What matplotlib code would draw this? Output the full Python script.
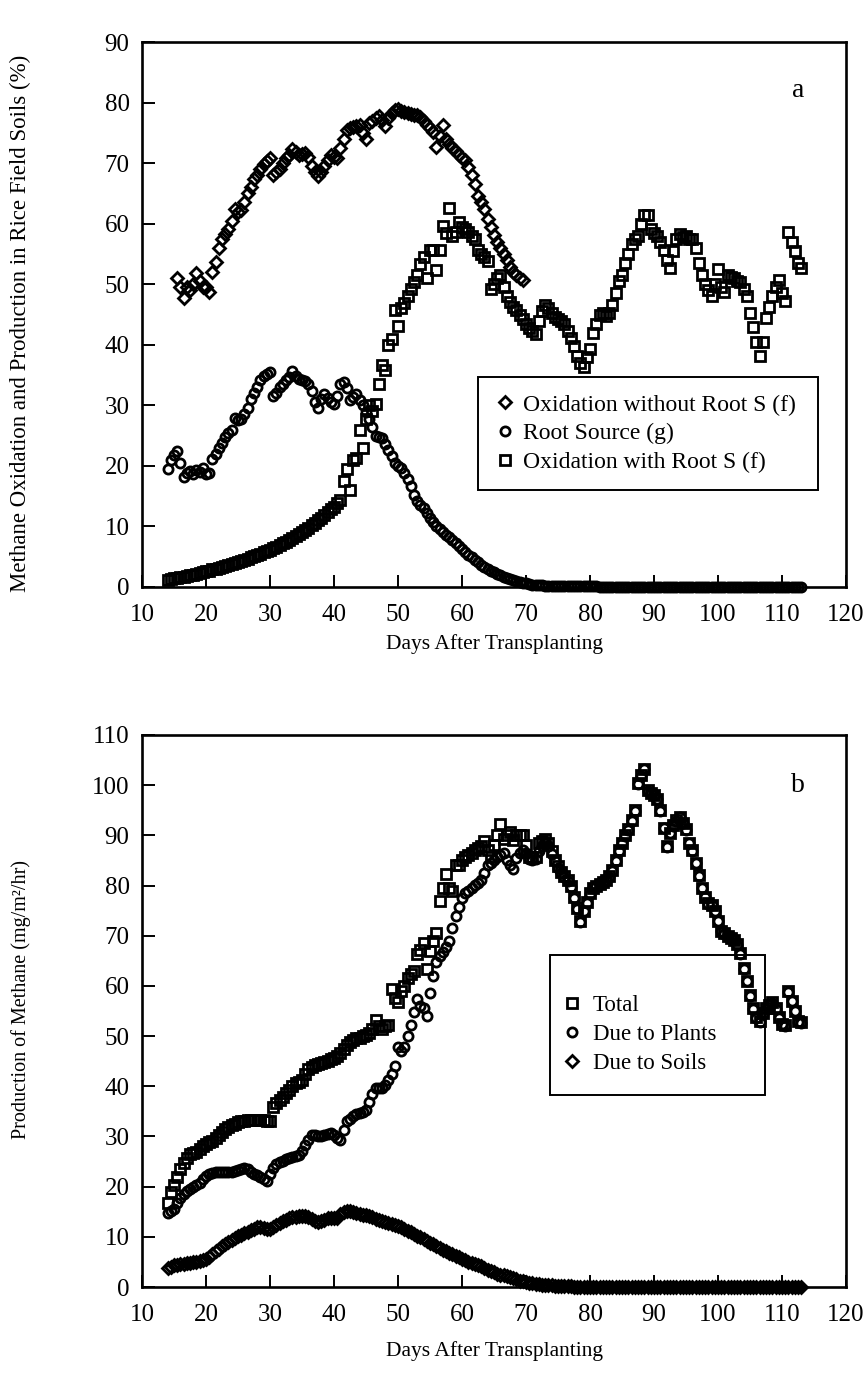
import numpy as np
import matplotlib
matplotlib.use("Agg")
import matplotlib.pyplot as plt
from matplotlib.patches import Rectangle

# ---- panel a: oxidation (%) ----
# sampled every 0.5 day
a_sq_start = 14.0
a_oxid_with_root = [
    1.2, 1.3, 1.4, 1.5, 1.6, 1.7, 1.8, 1.9, 2.0, 2.1,
    2.3, 2.4, 2.6, 2.7, 2.9, 3.0, 3.2, 3.3, 3.5, 3.7,
    3.8, 4.0, 4.1, 4.3, 4.5, 4.7, 4.9, 5.1, 5.3, 5.5,
    5.7, 5.9, 6.1, 6.4, 6.6, 6.9, 7.2, 7.5, 7.8, 8.1,
    8.4, 8.7, 9.0, 9.4, 9.8, 10.2, 10.6, 11.0, 11.4, 11.9,
    12.4, 12.8, 13.2, 13.8, 14.3, 17.5, 19.5, 16.0, 21.0, 21.3,
    25.9, 23.0, 27.7, 30.0, 29.0, 30.3, 33.5, 36.7, 35.8, 39.9,
    41.0, 45.7, 43.1, 46.0, 46.9, 48.0, 49.2, 50.4, 51.6, 53.3,
    54.5, 51.0, 55.7, 55.7, 52.4, 55.7, 59.7, 58.5, 62.6, 58.0,
    58.6, 60.3, 59.5, 59.1, 58.6, 58.0, 57.4, 55.7, 55.0, 54.5,
    53.9, 49.2, 50.0, 51.0, 51.6, 49.5, 48.0, 47.0, 46.2, 45.7,
    45.0, 44.2, 43.4, 42.8, 42.3, 41.7, 44.0, 45.5, 46.5, 46.0,
    45.2, 44.6, 44.3, 44.0, 43.5, 42.2, 41.1, 39.8, 38.2, 37.0,
    36.4, 38.0, 39.3, 42.0, 43.5, 45.0, 45.2, 44.8, 45.2, 46.5,
    48.5, 50.5, 51.6, 53.5, 55.0, 56.6, 57.5, 58.0, 60.0, 61.5,
    61.5, 59.1, 58.5, 58.0, 57.0, 55.7, 54.0, 52.7, 55.5, 57.5,
    58.3, 57.8, 58.0, 57.5, 57.4, 56.0, 53.5, 51.5, 50.0, 49.0,
    48.0, 50.0, 52.5, 49.5, 48.7, 51.6, 51.2, 51.0, 50.6, 50.4,
    49.2, 48.0, 45.2, 43.0, 40.5, 38.2, 40.5, 44.5, 46.3, 48.0,
    49.5, 50.7, 48.5, 47.2, 58.6, 57.0, 55.5, 53.5, 52.7,
]

a_ci_start = 14.0
a_root_source = [
    19.5, 21.0, 21.8, 22.4, 20.4, 18.2, 18.8, 19.2, 18.6, 19.4,
    19.0, 19.6, 18.6, 18.8, 21.2, 22.0, 23.0, 23.8, 24.8, 25.4,
    26.0, 27.9, 27.6, 27.8, 28.6, 29.5, 31.0, 32.0, 33.0, 34.2,
    34.8, 35.2, 35.5, 31.5, 32.0, 33.0, 33.6, 34.2, 34.6, 35.6,
    34.8, 34.4, 34.2, 34.0, 33.5, 32.3, 30.5, 29.6, 31.0, 31.8,
    31.2, 30.6, 30.2, 31.5, 33.6, 33.8, 32.9, 30.8, 31.4, 31.8,
    30.8, 30.0, 28.9, 27.8, 26.5, 25.0, 24.8, 24.6, 23.6, 22.6,
    21.6, 20.4, 20.0, 19.6, 18.8, 17.8, 16.6, 15.2, 14.2, 13.5,
    13.0, 12.2, 11.4, 10.8, 10.1, 9.6, 9.1, 8.6, 8.2, 7.7,
    7.2, 6.7, 6.2, 5.8, 5.3, 4.9, 4.5, 4.1, 3.7, 3.3,
    3.0, 2.7, 2.4, 2.1, 1.9, 1.7, 1.5, 1.3, 1.1, 0.95,
    0.8, 0.7, 0.6, 0.5, 0.4, 0.35, 0.3, 0.25, 0.2, 0.18,
    0.15, 0.12, 0.1, 0.1, 0.1, 0.1, 0.1, 0.1, 0.1, 0.1,
    0.1, 0.1, 0.1, 0.1, 0.1, 0.05, 0.05, 0.05, 0.05, 0.05,
    0.05, 0.05, 0.05, 0.05, 0.05, 0.05, 0.05, 0.05, 0.05, 0.05,
    0.05, 0.05, 0.05, 0.05, 0.05, 0.0, 0.0, 0.0, 0.0, 0.0,
    0.0, 0.0, 0.0, 0.0, 0.0, 0.0, 0.0, 0.0, 0.0, 0.0,
    0.0, 0.0, 0.0, 0.0, 0.0, 0.0, 0.0, 0.0, 0.0, 0.0,
    0.0, 0.0, 0.0, 0.0, 0.0, 0.0, 0.0, 0.0, 0.0, 0.0,
    0.0, 0.0, 0.0, 0.0, 0.0, 0.0, 0.0, 0.0, 0.0,
]

a_di_start = 15.5
a_oxid_without_root = [
    51.0, 49.5, 47.8, 49.5, 49.0, 50.0, 51.9, 50.5, 49.5,
    49.5, 48.7, 52.0, 53.6, 56.0, 57.5, 58.3, 59.2, 60.5, 62.4,
    62.0, 62.2, 63.5, 65.0, 66.0, 67.3, 68.0, 69.0, 69.8, 70.3,
    70.8, 68.0, 68.5, 69.0, 70.0, 70.8, 71.3, 72.3, 71.8, 71.4,
    71.5, 71.7, 71.0, 69.6, 68.6, 67.9, 68.5, 69.5, 70.6, 71.4,
    71.0, 70.8, 72.5, 74.0, 75.5, 75.8, 76.0, 76.2, 76.3, 75.0,
    74.0, 76.6, 77.0, 77.4, 77.8, 77.2, 76.2, 77.5, 78.2, 78.8,
    79.0, 78.6, 78.4, 78.2, 78.1, 78.0, 77.9, 77.6, 77.0, 76.3,
    75.8, 75.2, 72.6, 74.5, 76.3, 74.0, 73.1, 72.5, 72.0, 71.4,
    70.8, 70.5, 69.3, 68.0, 66.5, 64.6, 63.5, 62.5, 60.8, 59.5,
    58.2, 57.0, 56.0, 55.0, 54.0, 52.8, 52.0, 51.5, 51.0, 50.7,
]

# ---- panel b: production (mg/m2/hr) ----
b_start = 14.0
b_total = [
    16.7, 18.9, 20.4, 21.9, 23.5, 24.8, 25.8, 26.5, 26.8, 27.0,
    27.6, 28.0, 28.5, 28.9, 29.1, 29.6, 30.3, 30.9, 31.4, 31.9,
    32.2, 32.5, 32.8, 33.0, 33.1, 33.2, 33.3, 33.3, 33.3, 33.3,
    33.2, 33.1, 33.0, 35.9, 36.6, 37.2, 37.8, 38.6, 39.3, 40.0,
    40.6, 40.9, 41.3, 42.5, 43.4, 43.9, 44.3, 44.5, 44.7, 44.8,
    45.1, 45.4, 45.6, 46.0, 46.7, 47.5, 48.3, 48.8, 49.2, 49.6,
    49.7, 50.0, 50.3, 50.6, 51.5, 53.3, 52.0, 51.5, 52.0, 52.2,
    59.3, 57.5, 56.7, 58.9, 60.0, 61.5, 62.3, 63.0, 66.3, 67.2,
    68.5, 63.3, 67.0, 69.0, 70.5, 77.0, 79.5, 82.2, 79.5, 78.9,
    84.0, 84.0, 85.0, 85.6, 86.0, 86.5, 87.0, 87.5, 87.8, 88.9,
    87.0, 85.6, 88.0, 90.0, 92.2, 89.3, 90.0, 90.7, 89.0, 90.0,
    90.0, 90.0, 88.0, 85.6, 85.6, 85.6, 88.5, 88.8, 89.3, 88.5,
    86.8, 85.0, 83.8, 82.6, 81.8, 81.1, 80.0, 77.8, 75.5, 73.0,
    75.0, 76.7, 78.5, 79.6, 80.0, 80.4, 80.7, 81.1, 81.8, 83.0,
    85.0, 87.0, 88.5, 90.0, 91.2, 93.0, 95.0, 100.4, 102.0, 103.3,
    99.0, 98.5, 98.1, 97.3, 95.0, 91.5, 87.8, 90.5, 92.0, 93.0,
    93.7, 92.5, 91.2, 88.5, 87.0, 84.5, 82.0, 79.6, 77.8, 76.5,
    76.2, 75.0, 73.0, 71.0, 70.5, 70.0, 69.6, 69.2, 68.3, 66.5,
    63.5, 61.0, 58.1, 55.5, 53.8, 53.0, 54.5, 55.5, 56.2, 56.7,
    55.5, 53.8, 52.5, 52.2, 58.9, 57.0, 55.0, 53.0, 52.8,
]

b_plants = [
    14.8, 15.2, 15.6, 16.7, 17.8, 18.5, 19.2, 19.6, 20.0, 20.4,
    20.8, 21.5, 22.2, 22.6, 22.8, 23.0, 23.0, 23.0, 23.0, 23.0,
    23.0, 23.1, 23.3, 23.5, 23.7, 23.5, 23.0, 22.6, 22.3, 21.9,
    21.5, 21.1, 22.5, 23.8, 24.5, 24.9, 25.2, 25.5, 25.7, 26.0,
    26.2, 26.4, 27.2, 28.2, 29.3, 30.3, 30.2, 30.0, 30.1, 30.3,
    30.5, 30.7, 30.2, 29.6, 29.3, 31.2, 33.0, 33.5, 34.0, 34.4,
    34.6, 34.9, 35.2, 36.8, 38.4, 39.6, 39.6, 39.6, 40.2, 41.3,
    42.5, 44.1, 47.8, 47.0, 47.8, 50.0, 52.2, 54.8, 57.4, 56.0,
    55.6, 54.1, 58.5, 61.9, 64.8, 66.0, 66.8, 67.8, 69.0, 71.5,
    74.0, 75.8, 77.5, 78.5, 79.0, 79.6, 80.2, 80.6, 81.1, 82.5,
    84.1, 84.5, 85.0, 85.6, 86.0, 86.5, 85.0, 84.0, 83.3, 85.5,
    86.5, 87.0, 86.5, 85.2, 85.0, 85.2, 86.8, 87.8, 88.5, 87.8,
    86.3, 84.8, 83.5, 82.4, 81.6, 80.9, 79.8, 77.6, 75.3, 72.8,
    74.9, 76.6, 78.4, 79.5, 79.9, 80.3, 80.6, 81.0, 81.7, 82.9,
    84.9, 86.9, 88.4, 89.9, 91.1, 92.9, 94.9, 100.3, 101.9, 103.2,
    98.9, 98.4, 98.0, 97.2, 94.9, 91.4, 87.7, 90.4, 91.9, 92.9,
    93.6, 92.4, 91.1, 88.4, 86.9, 84.4, 81.9, 79.5, 77.7, 76.4,
    76.1, 74.9, 72.9, 70.9, 70.4, 69.9, 69.5, 69.1, 68.2, 66.4,
    63.4, 60.9, 58.0, 55.4, 53.7, 52.9, 54.4, 55.4, 56.1, 56.6,
    55.4, 53.7, 52.4, 52.1, 58.8, 56.9, 54.9, 52.9, 52.7,
]

b_soils = [
    3.7, 4.0, 4.3, 4.4, 4.5, 4.6, 4.7, 4.8, 4.9, 5.0,
    5.1, 5.3, 5.5, 6.0, 6.6, 7.1, 7.6, 8.1, 8.5, 9.0,
    9.4, 9.8, 10.1, 10.4, 10.7, 11.0, 11.3, 11.6, 11.9, 11.9,
    11.8, 11.6, 11.5, 12.0, 12.4, 12.8, 13.1, 13.4, 13.7, 13.9,
    14.0, 14.1, 14.1, 14.1, 14.0, 13.6, 13.2, 13.0, 13.2, 13.4,
    13.7, 13.7, 13.7, 13.8, 14.5, 15.0, 15.2, 15.1, 15.0, 14.8,
    14.6, 14.4, 14.3, 14.1, 13.9, 13.6, 13.4, 13.1, 12.9, 12.7,
    12.5, 12.3, 12.1, 11.9, 11.5, 11.2, 10.9, 10.5, 10.2, 9.9,
    9.6, 9.2, 8.8, 8.5, 8.1, 7.8, 7.4, 7.1, 6.8, 6.5,
    6.2, 5.9, 5.6, 5.3, 5.0, 4.8, 4.5, 4.3, 4.1, 3.8,
    3.4, 3.1, 2.9, 2.6, 2.4, 2.3, 2.1, 1.9, 1.7, 1.5,
    1.3, 1.2, 1.0, 0.9, 0.8, 0.7, 0.6, 0.5, 0.45, 0.4,
    0.35, 0.3, 0.25, 0.2, 0.2, 0.15, 0.15, 0.1, 0.1, 0.1,
    0.1, 0.1, 0.1, 0.1, 0.1, 0.1, 0.05, 0.05, 0.05, 0.05,
    0.05, 0.05, 0.05, 0.05, 0.05, 0.05, 0.05, 0.05, 0.05, 0.05,
    0.05, 0.05, 0.05, 0.05, 0.05, 0.0, 0.0, 0.0, 0.0, 0.0,
    0.0, 0.0, 0.0, 0.0, 0.0, 0.0, 0.0, 0.0, 0.0, 0.0,
    0.0, 0.0, 0.0, 0.0, 0.0, 0.0, 0.0, 0.0, 0.0, 0.0,
    0.0, 0.0, 0.0, 0.0, 0.0, 0.0, 0.0, 0.0, 0.0, 0.0,
    0.0, 0.0, 0.0, 0.0, 0.0, 0.0, 0.0, 0.0, 0.0,
]


def day_axis(start, vals):
    return start + 0.5 * np.arange(len(vals))


plt.rcParams['font.family'] = ['Liberation Serif', 'DejaVu Serif']
plt.rcParams['font.size'] = 17

fig = plt.figure(figsize=(8.67, 13.74), dpi=100)
ax1 = fig.add_axes([0.1638, 0.5728, 0.812, 0.3966])
ax2 = fig.add_axes([0.1638, 0.0633, 0.812, 0.4018])

mk = dict(ls='none', mfc='none', mec='black', clip_on=False)

# panel a
h_di, = ax1.plot(day_axis(a_di_start, a_oxid_without_root), a_oxid_without_root,
                 marker='D', ms=5.8, mew=2.0, **mk)
h_ci, = ax1.plot(day_axis(a_ci_start, a_root_source), a_root_source,
                 marker='o', ms=6.6, mew=2.0, **mk)
h_sq, = ax1.plot(day_axis(a_sq_start, a_oxid_with_root), a_oxid_with_root,
                 marker='s', ms=6.6, mew=2.0, **mk)

# panel b
g_sq, = ax2.plot(day_axis(b_start, b_total), b_total,
                 marker='s', ms=6.6, mew=2.0, **mk)
g_ci, = ax2.plot(day_axis(b_start, b_plants), b_plants,
                 marker='o', ms=6.6, mew=2.0, **mk)
g_di, = ax2.plot(day_axis(b_start, b_soils), b_soils,
                 marker='D', ms=5.8, mew=2.0, **mk)

for ax, ymax in ((ax1, 90), (ax2, 110)):
    ax.set_xlim(10, 120)
    ax.set_ylim(0, ymax)
    ax.set_xticks(np.arange(10, 121, 10))
    ax.set_yticks(np.arange(0, ymax + 1, 10))
    ax.tick_params(direction='in', length=9, width=1.4, labelsize=18,
                   top=False, right=False)
    ax.tick_params(axis='x', pad=12)
    ax.tick_params(axis='y', pad=9)
    for s in ax.spines.values():
        s.set_linewidth(1.9)

ax1.set_xlabel('Days After Transplanting', fontsize=15.5, labelpad=6)
ax2.set_xlabel('Days After Transplanting', fontsize=15.5, labelpad=11)
ax1.set_ylabel('Methane Oxidation and Production in Rice Field Soils (%)',
               fontsize=16.5)
ax2.set_ylabel('Production of Methane (mg/m²/hr)', fontsize=14.5)
ax1.yaxis.set_label_coords(-0.158, 0.483)
ax2.yaxis.set_label_coords(-0.158, 0.52)

ax1.text(112.5, 82, 'a', fontsize=20, ha='center', va='center')
ax2.text(112.5, 100, 'b', fontsize=20, ha='center', va='center')

# legend boxes drawn by hand, legends themselves without frame
ax1.add_patch(Rectangle((0.477, 0.178), 0.483, 0.207, transform=ax1.transAxes,
                        fill=False, lw=1.4, ec='black', zorder=5))
ax1.legend([h_di, h_ci, h_sq],
           ['Oxidation without Root S (f)', 'Root Source (g)',
            'Oxidation with Root S (f)'],
           loc='center left', bbox_to_anchor=(0.499, 0.2815),
           fontsize=17, numpoints=1, handlelength=1.0,
           handletextpad=0.25, labelspacing=0.3, borderpad=0,
           borderaxespad=0, frameon=False)

ax2.add_patch(Rectangle((0.58, 0.348), 0.305, 0.253, transform=ax2.transAxes,
                        fill=False, lw=1.4, ec='black', zorder=5))
ax2.legend([g_sq, g_ci, g_di],
           ['Total', 'Due to Plants', 'Due to Soils'],
           loc='center left', bbox_to_anchor=(0.5945, 0.458),
           fontsize=16.5, numpoints=1, handlelength=1.0,
           handletextpad=0.42, labelspacing=0.35, borderpad=0,
           borderaxespad=0, frameon=False)

fig.savefig('out.png', dpi=100)
